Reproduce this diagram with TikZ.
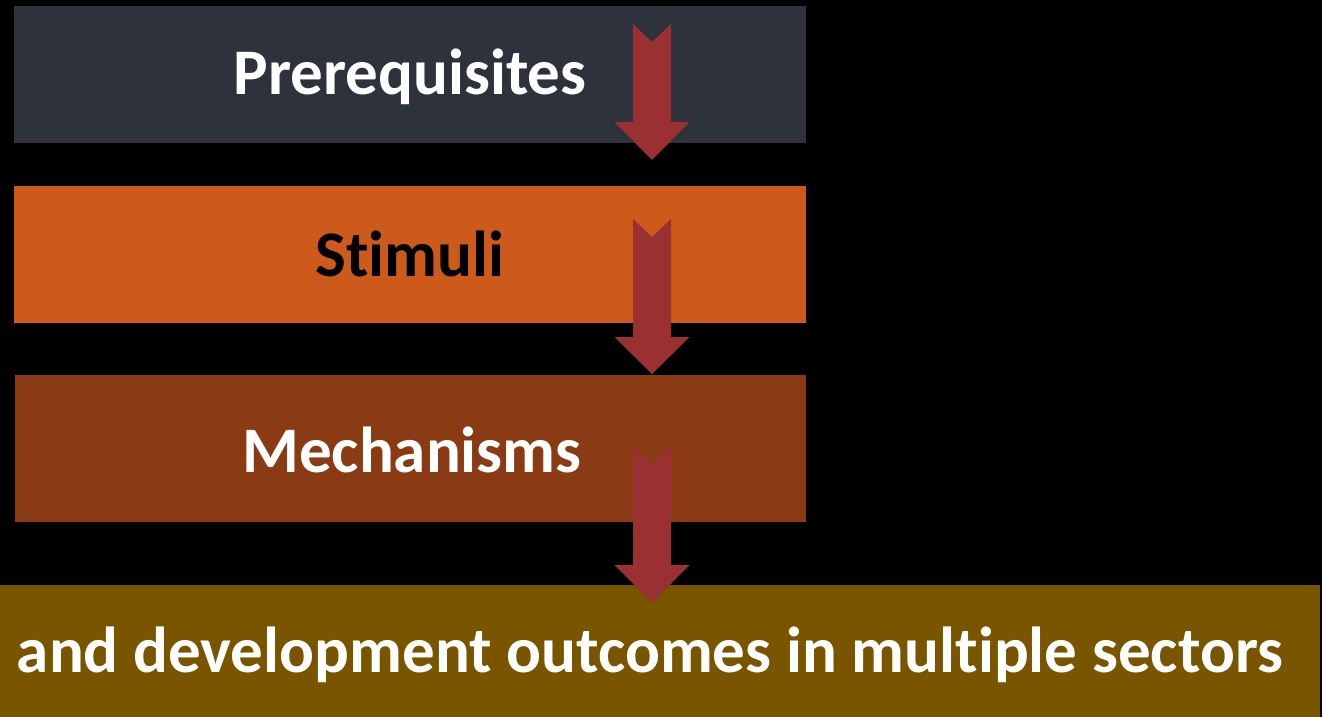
\documentclass[tikz,border=0pt]{standalone}
\usepackage{fontspec}
\setmainfont{Carlito}[Ligatures=NoCommon]
\definecolor{slatebox}{HTML}{2E323C}
\definecolor{orangebox}{HTML}{CD5A1A}
\definecolor{brownbox}{HTML}{8B3B14}
\definecolor{olivebox}{HTML}{7A5500}
\definecolor{arrowred}{HTML}{9B3033}
\begin{document}
\begin{tikzpicture}[x=1pt,y=-1pt,
  band/.style={fill=#1,draw=none},
  label/.style={font=\fontsize{65}{68}\selectfont\bfseries,inner sep=0pt,anchor=base},
  blockarrow/.style={fill=arrowred,draw=none}]
  % page background
  \fill[black] (0,0) rectangle (1322,717);
  \useasboundingbox (0,0) rectangle (1322,717);

  % stacked bands
  \fill[band=slatebox]  (14,6)   rectangle (806,143);
  \fill[band=orangebox] (14,186) rectangle (806,323);
  \fill[band=brownbox]  (15,375) rectangle (806,522);
  \fill[band=olivebox]  (0,585)  rectangle (1320,717);

  \node[label,text=white] (pre)  at (410,95)  {Prerequisites};
  \node[label,text=black] (stim) at (410,276) {Stimuli};
  \node[label,text=white] (mech) at (412,472) {Mechanisms};
  \node[label,text=white] (out)  at (650,672) {and development outcomes in multiple sectors};

  % notched block arrows: top y, head start y, tip y
  \newcommand{\blockarrowat}[3]{%
    \fill[blockarrow] (633,#1) -- (652,#1+18) -- (671,#1) -- (671,#2) -- (689.5,#2)
      -- (652,#3) -- (614.5,#2) -- (633,#2) -- cycle;}
  \blockarrowat{24}{122}{160}
  \blockarrowat{219}{337}{374}
  \blockarrowat{447}{565}{603}
\end{tikzpicture}
\end{document}
